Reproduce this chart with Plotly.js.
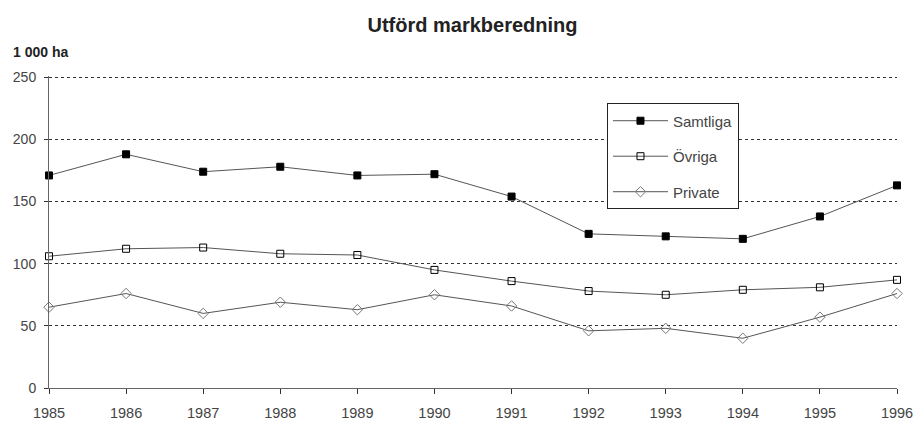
<!DOCTYPE html>
<html>
<head>
<meta charset="utf-8">
<script src="https://cdn.plot.ly/plotly-3.0.1.min.js"></script>
<style>html,body{margin:0;padding:0;background:#fff;}#chart{width:914px;height:421px;}</style>
</head>
<body>
<div id="chart"></div>
<script>
const years = [1985,1986,1987,1988,1989,1990,1991,1992,1993,1994,1995,1996];
const samtliga = [171,188,174,178,171,172,154,124,122,120,138,163];
const ovriga   = [106,112,113,108,107,95,86,78,75,79,81,87];
const private_ = [65,76,60,69,63,75,66,46,48,40,57,76];
const yTicks = [0,50,100,150,200,250];

const FAM = '"Liberation Sans", Arial, sans-serif';
const lineStyle = {color:'#555', width:1};
const tickFont = {family:FAM, size:14, color:'#444'};

const traces = [
  {x:years, y:samtliga, name:'Samtliga', mode:'lines+markers', line:lineStyle, legendgroup:'a',
   marker:{symbol:'square', size:7, color:'#000', line:{color:'#000', width:1}}, cliponaxis:false},
  {x:years, y:ovriga, name:'Övriga', mode:'lines+markers', line:lineStyle, legendgroup:'b',
   marker:{symbol:'square-open', size:7, color:'#000', line:{color:'#000', width:1}}, cliponaxis:false},
  {x:years, y:private_, name:'Private', mode:'lines+markers', line:lineStyle, legendgroup:'c',
   marker:{symbol:'diamond-open', size:8, color:'#777', line:{color:'#777', width:1}}, cliponaxis:false}
];

const layout = {
  width:914, height:421,
  margin:{l:49, r:17, t:76, b:33},
  paper_bgcolor:'#fff', plot_bgcolor:'#fff',
  font:tickFont,
  title:{text:'<b>Utförd markberedning</b>', x:0.517, xanchor:'center', y:0.94, yanchor:'middle',
         font:{family:FAM, size:20, color:'#222'}},
  xaxis:{range:[1985,1996], tickvals:years, ticktext:years.map(String), showgrid:false, zeroline:false,
         showline:true, linecolor:'#666', linewidth:1, ticks:'outside', ticklen:5, tickcolor:'#333',
         ticklabelstandoff:7, tickfont:{family:FAM, size:14.5, color:'#444'}},
  yaxis:{range:[0,251], tickvals:yTicks, showgrid:true, gridcolor:'#333', griddash:'3px,3px', gridwidth:1,
         zeroline:false, showline:true, linecolor:'#666', linewidth:1, ticks:'outside', ticklen:4,
         tickcolor:'#333', ticklabelstandoff:5, tickfont:tickFont},
  showlegend:true,
  legend:{x:0.658, y:0.912, xanchor:'left', yanchor:'top', bgcolor:'#fff', bordercolor:'#222', borderwidth:1,
          traceorder:'grouped', tracegroupgap:13, itemwidth:55, font:{family:FAM, size:15, color:'#444'}},
  annotations:[{text:'<b>1 000 ha</b>', xref:'paper', yref:'paper', x:-0.045, y:1.078, xanchor:'left', yanchor:'middle',
                showarrow:false, font:{family:FAM, size:14, color:'#222'}}]
};

Plotly.newPlot('chart', traces, layout, {displayModeBar:false, staticPlot:true});
</script>
</body>
</html>
